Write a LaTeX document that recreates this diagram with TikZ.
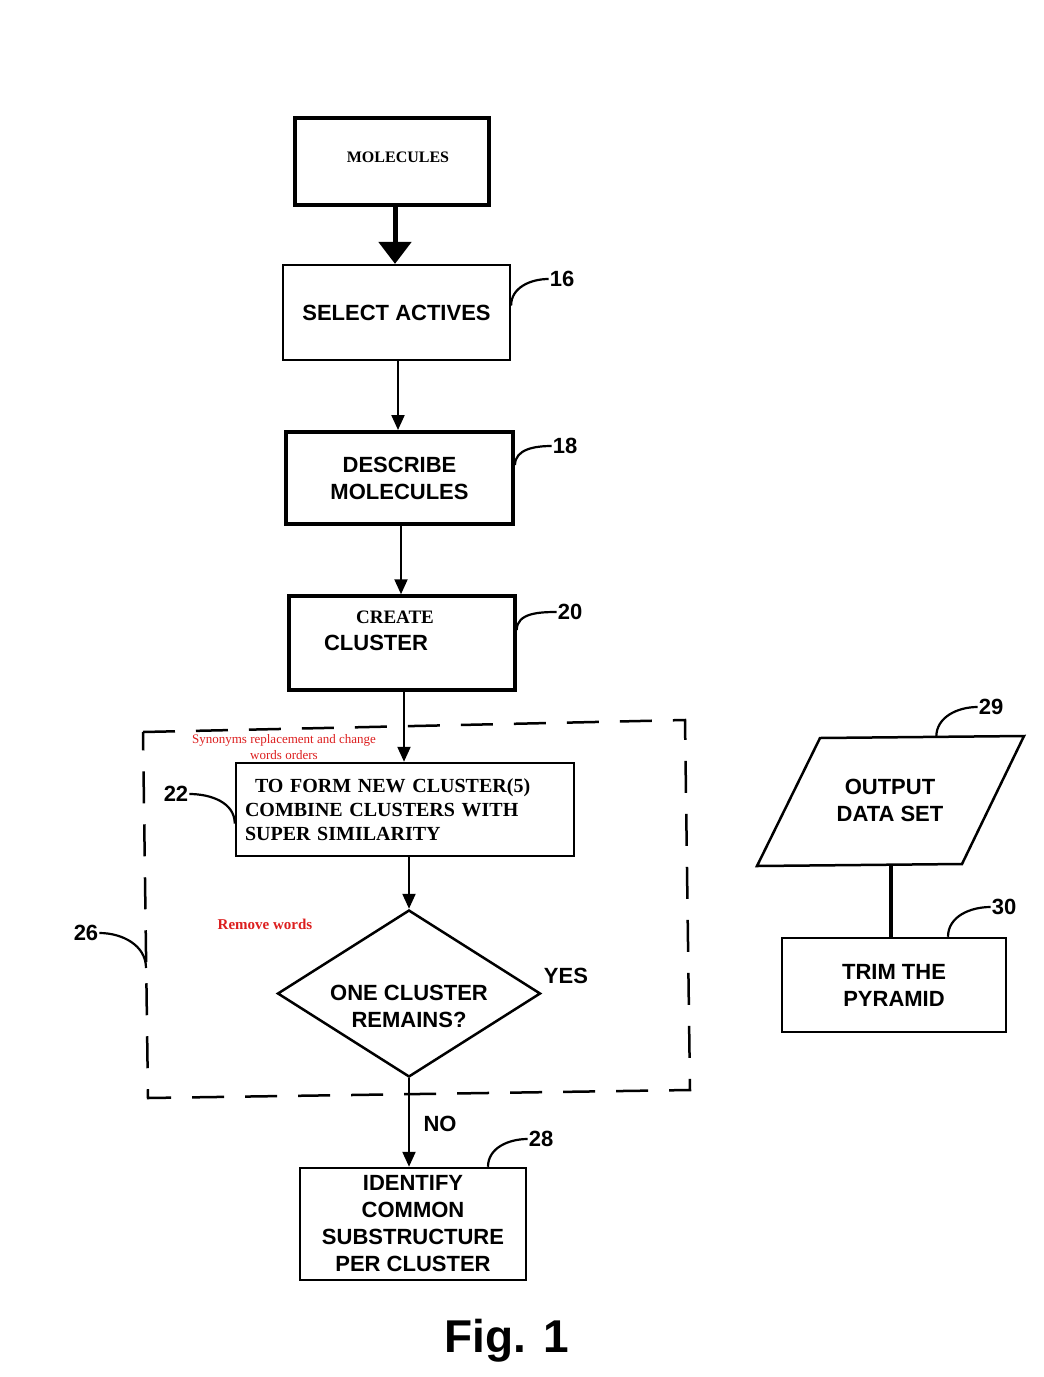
\documentclass[tikz,border=0pt]{standalone}
\usepackage{fontspec}
\setmainfont{Liberation Serif}
\setsansfont{Liberation Sans}
\usetikzlibrary{shapes.geometric,arrows.meta,calc}
\definecolor{notered}{RGB}{220,30,30}
\tikzset{
  stepbox/.style={draw, line width=2.5pt, inner sep=0pt, align=center,
    font=\sffamily\bfseries\fontsize{22}{27}\selectfont},
  boxtext/.style={align=center, inner sep=0pt, font=\sffamily\bfseries\fontsize{22}{27}\selectfont},
  refnum/.style={font=\sffamily\bfseries\fontsize{22}{26}\selectfont, inner sep=1pt},
  flow/.style={line width=2.2pt, -{Triangle[length=15pt,width=13pt]}},
  leader/.style={line width=2.2pt},
  note/.style={text=notered, align=center, inner sep=0pt}
}
\begin{document}
\begin{tikzpicture}[x=1pt,y=-1pt]
        \useasboundingbox (0,0) rectangle (1044,1377);

        % main column
        \node[stepbox, line width=3.5pt, minimum width=194pt, minimum height=87pt] (mol) at (392,161.5) {};
        \node[boxtext, font=\rmfamily\bfseries\fontsize{16}{19}\selectfont] (molTxt) at (398,157) {MOLECULES};
        \node[stepbox, line width=2.2pt, minimum width=227pt, minimum height=95pt] (sel) at (396.5,312.5) {SELECT ACTIVES};
        \node[stepbox, line width=4pt, minimum width=227pt, minimum height=92pt] (desc) at (399.5,478) {DESCRIBE\\MOLECULES};
        \node[stepbox, line width=3.5pt, minimum width=226pt, minimum height=94pt] (crt) at (402,643) {};
        \node[boxtext, font=\rmfamily\bfseries\fontsize{19}{22}\selectfont] (crtTop) at (395,617) {CREATE};
        \node[boxtext] (crtBot) at (376,643) {CLUSTER};
        \node[stepbox, minimum width=338pt, minimum height=93pt, text width=320pt, inner xsep=9pt,
              align=left, font=\rmfamily\bfseries\fontsize{20}{24}\selectfont] (comb) at (405,809.5)
              {\hspace*{10pt}TO FORM NEW CLUSTER(5)\\COMBINE CLUSTERS WITH\\SUPER SIMILARITY};
        \node[stepbox, shape=diamond, aspect=1.57, minimum width=263pt, minimum height=167pt] (one) at (409,993.5) {};
        \node[boxtext] (oneTxt) at (409,1006) {ONE CLUSTER\\REMAINS?};
        \node[stepbox, minimum width=226pt, minimum height=112pt] (ident) at (413,1224)
              {IDENTIFY\\COMMON\\SUBSTRUCTURE\\PER CLUSTER};

        % dashed loop around step 22
        \draw[line width=2.5pt, dash pattern=on 32pt off 21pt] (143,732) -- (685,720) -- (690,1090) -- (148,1098) -- cycle;
        \coordinate (d26) at (146,968);

        % red notes
        \node[note, font=\rmfamily\fontsize{13}{16}\selectfont] (syn) at (284,747) {Synonyms replacement and change\\words orders};
        \node[note, font=\rmfamily\bfseries\fontsize{15}{18}\selectfont] (rem) at (265,924) {Remove words};

        % output side
        \coordinate (p1) at (820,738);
        \coordinate (p2) at (1024,736);
        \coordinate (p3) at (962,864);
        \coordinate (p4) at (757,866);
        \draw[line width=2.5pt, line join=miter] (p1) -- (p2) -- (p3) -- (p4) -- cycle;
        \node[boxtext] (out) at (890,800) {OUTPUT\\DATA SET};
        \coordinate (pb) at (891,865);
        \node[stepbox, minimum width=224pt, minimum height=94pt] (trim) at (894,985) {TRIM THE\\PYRAMID};

        % connectors
        \draw[line width=5pt, -{Triangle[length=22pt,width=32pt]}] (mol.south -| 395,0) -- (sel.north -| 395,0);
        \draw[flow] (sel.south -| 398,0) -- (desc.north -| 398,0);
        \draw[flow] (desc.south -| 401,0) -- (crt.north -| 401,0);
        \draw[flow] (crt.south -| 404,0) -- (comb.north -| 404,0);
        \draw[flow] (comb.south -| one.north) -- (one.north);
        \draw[flow] (one.south) -- (one.south |- ident.north);
        \draw[line width=4pt] (pb) -- (pb |- trim.north);

        % yes / no
        \node[refnum] (yes) at (566,976) {YES};
        \node[refnum] (no) at (440,1124) {NO};

        % reference numbers
        \node[refnum] (n16) at (562,279) {16};
        \node[refnum] (n18) at (565,446) {18};
        \node[refnum] (n20) at (570,612) {20};
        \node[refnum] (n22) at (176,794) {22};
        \node[refnum] (n26) at (86,933) {26};
        \node[refnum] (n28) at (541,1139) {28};
        \node[refnum] (n29) at (991,707) {29};
        \node[refnum] (n30) at (1004,907) {30};

        \draw[leader] ([yshift=7pt]sel.east) to[out=90,in=180] (n16.west);
        \draw[leader] ([yshift=13pt]desc.east) to[out=90,in=180] (n18.west);
        \draw[leader] ([yshift=13pt]crt.east) to[out=90,in=180] (n20.west);
        \draw[leader] (n22.east) to[out=0,in=90] ([yshift=-14pt]comb.west);
        \draw[leader] (n26.east) to[out=0,in=90] (d26);
        \draw[leader] ($(p1)!0.57!(p2)$) to[out=90,in=180] (n29.west);
        \draw[leader] ([xshift=75pt]ident.north) to[out=90,in=180] (n28.west);
        \draw[leader] ([xshift=54pt]trim.north) to[out=90,in=180] (n30.west);

        \node[font=\sffamily\bfseries\fontsize{46}{50}\selectfont] (fig) at (507,1341) {Fig. 1};

\end{tikzpicture}
\end{document}
